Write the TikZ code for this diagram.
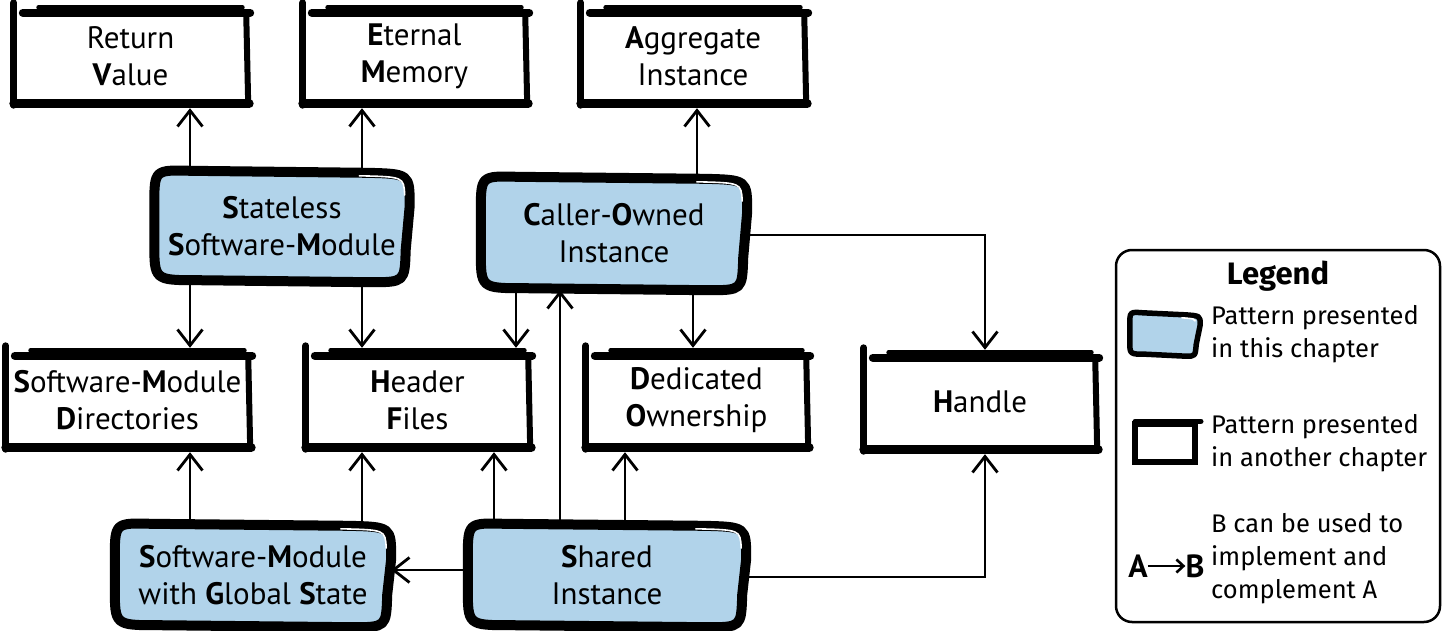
\documentclass[tikz,border=0pt]{standalone}
\usepackage{fontspec}
\usetikzlibrary{arrows.meta,calc,backgrounds}
\newfontfamily\handfont{PT Sans}
\newfontfamily\legfont{Fira Sans}
\definecolor{blobblue}{HTML}{B1D3EA}
\newcommand\bc[1]{\textbf{#1}}
% sketchy box outline around node #1
\newcommand\boxdraw[1]{%
 \draw[line width=7pt,line cap=round] ($(#1.north west)+(1,-2)$) -- ($(#1.south west)+(1,-3)$);
 \draw[line width=8pt,line cap=round] ($(#1.north west)+(10,8)$) -- ($(#1.north east)+(2,8)$);
 \draw[line width=5pt,line cap=round] ($(#1.north west)+(26,2.5)$) -- ($(#1.north east)+(-6,2.5)$);
 \draw[line width=6pt,line cap=round] ($(#1.north east)+(-2,8)$) -- ($(#1.south east)+(0,-4)$);
 \draw[line width=9pt,line cap=round] ($(#1.south west)+(1,-4.5)$) -- ($(#1.south east)+(1,-4.5)$);
}
% blob outline around node #2 with corner size #3
\newcommand\blobdraw[3][]{%
 \draw[blobln,#1] ($(#2.north west)+(#3,1)$)
   -- ($(#2.north east)+(-1.2*#3,3)$)
   .. controls ($(#2.north east)+(0,4)$) .. ($(#2.north east)+(0,1.0*#3)$)
   -- ($(#2.south east)+(-4,-0.9*#3)$)
   .. controls ($(#2.south east)+(-5,0)$) .. ($(#2.south east)+(-1.1*#3,0)$)
   -- ($(#2.south west)+(1.2*#3,-2)$)
   .. controls ($(#2.south west)+(0,-2)$) .. ($(#2.south west)+(0,-1.1*#3)$)
   -- ($(#2.north west)+(0,1.0*#3)$)
   .. controls ($(#2.north west)+(0,0)$) .. cycle;
 \draw[white,line width=1.6pt,line cap=round] ($(#2.north east)+(-1.4*#3,6)$)
   .. controls ($(#2.north east)+(-6,7)$) .. ($(#2.north east)+(-5,0.7*#3)$);
}
\begin{document}
\begin{tikzpicture}[x=1pt,y=-1pt,
  every node/.style={inner sep=0pt},
  hand/.style={font=\handfont\fontsize{31}{37}\selectfont, align=center},
  boxn/.style={hand, fill=white},
  blobln/.style={draw=black, fill=blobblue, line width=10pt, line join=round},
  arr/.style={line width=2.8pt, line cap=round, -{Straight Barb[length=16pt,width=25pt,line width=2.8pt]}},
  legtext/.style={font=\legfont\fontsize{25.5}{33}\selectfont, align=left, anchor=west}]
\useasboundingbox (0,0) rectangle (1443,631);

% top row (other chapters)
\node[boxn, minimum width=235, minimum height=103] (rv) at (130.5,56.5) {Return\\\bc{V}alue};
\node[boxn, minimum width=225, minimum height=103] (em) at (414.5,56.5) {\bc{E}ternal\\\bc{M}emory};
\node[boxn, minimum width=226, minimum height=103] (ai) at (693,56.5) {\bc{A}ggregate\\Instance};
% middle row
\node[boxn, minimum width=245, minimum height=104] (smd) at (127.5,400) {\bc{S}oftware-\bc{M}odule\\\bc{D}irectories};
\node[boxn, minimum width=225, minimum height=104] (hf) at (417.5,400) {\bc{H}eader\\\bc{F}iles};
\node[boxn, minimum width=223, minimum height=104] (dox) at (696.5,400) {\bc{D}edicated\\\bc{O}wnership};
\node[boxn, minimum width=234, minimum height=104] (hd) at (980,402) {\bc{H}andle};
\foreach \n in {rv,em,ai,smd,hf,dox}{\boxdraw{\n}}
\boxdraw{hd}

% blobs (this chapter)
\node[hand, minimum width=255, minimum height=112] (sl) at (282,226) {\bc{S}tateless\\\bc{S}oftware-\bc{M}odule};
\node[hand, minimum width=266, minimum height=114] (co) at (614,233) {\bc{C}aller-\bc{O}wned\\Instance};
\node[hand, minimum width=276, minimum height=104] (sg) at (253,575) {\bc{S}oftware-\bc{M}odule\\with \bc{G}lobal \bc{S}tate};
\node[hand, minimum width=278, minimum height=104] (si) at (607,575) {\bc{S}hared\\Instance};

% legend
\node[draw, line width=2.5pt, rounded corners=16pt, minimum width=324, minimum height=372] (lg) at (1278,436) {};
\node[font=\legfont\bfseries\fontsize{31}{36}\selectfont] (lgt) at (1278,276) {Legend};
\node[minimum width=70, minimum height=44] (lbi) at (1165,334) {};
\node[legtext] (lbt) at (1211,334) {Pattern presented\\in this chapter};
\node[fill=white, draw, line width=5.5pt, minimum width=60, minimum height=38] (lri) at (1165,443) {};
\draw[line width=5.5pt, line cap=round] ($(lri.north west)+(3,0)$) -- ($(lri.north east)+(3,0)$);
\node[legtext] (lrt) at (1211,443) {Pattern presented\\in another chapter};
\node[font=\handfont\bfseries\fontsize{32}{36}\selectfont] (la) at (1138,566) {A};
\node[font=\handfont\bfseries\fontsize{32}{36}\selectfont] (lb) at (1195,566) {B};
\draw[line width=2.6pt, -{Straight Barb[length=7pt,width=13pt,line width=2.6pt]}] (la.east) -- (lb.west);
\node[legtext] (lat) at (1211,559) {B can be used to\\implement and\\complement A};

\begin{pgfonlayer}{background}
\foreach \n in {sl,co,sg,si}{\blobdraw{\n}{36}}
\blobdraw[line width=5.5pt]{lbi}{13}
\end{pgfonlayer}

% connectors
\draw[arr] ([xshift=-92pt]sl.north) coordinate (a1) -- (a1 |- rv.south);
\draw[arr] ([xshift=80pt]sl.north) coordinate (a2) -- (a2 |- em.south);
\draw[arr] ([xshift=-92pt]sl.south) coordinate (a3) -- (a3 |- smd.north);
\draw[arr] ([xshift=80pt]sl.south) coordinate (a4) -- (a4 |- hf.north);
\draw[arr] ([xshift=83pt]co.north) coordinate (a5) -- (a5 |- ai.south);
\draw[arr] ([xshift=-98pt]co.south) coordinate (a6) -- (a6 |- hf.north);
\draw[arr] ([xshift=79pt]co.south) coordinate (a7) -- (a7 |- dox.north);
\draw[arr] ([yshift=-2pt]co.east) -| ([xshift=5pt]hd.north);
\draw[arr] ([xshift=-47pt]si.north) coordinate (a9) -- (a9 |- co.south);
\draw[arr] ([xshift=-113pt]si.north) coordinate (a10) -- (a10 |- hf.south);
\draw[arr] ([xshift=18pt]si.north) coordinate (a11) -- (a11 |- dox.south);
\draw[arr] ([yshift=-2pt]si.east) -| ([xshift=5pt]hd.south);
\draw[arr] ([yshift=5pt]si.west) coordinate (a13) -- (sg.east |- a13);
\draw[arr] ([xshift=-63pt]sg.north) coordinate (a14) -- (a14 |- smd.south);
\draw[arr] ([xshift=109pt]sg.north) coordinate (a15) -- (a15 |- hf.south);
\end{tikzpicture}
\end{document}
